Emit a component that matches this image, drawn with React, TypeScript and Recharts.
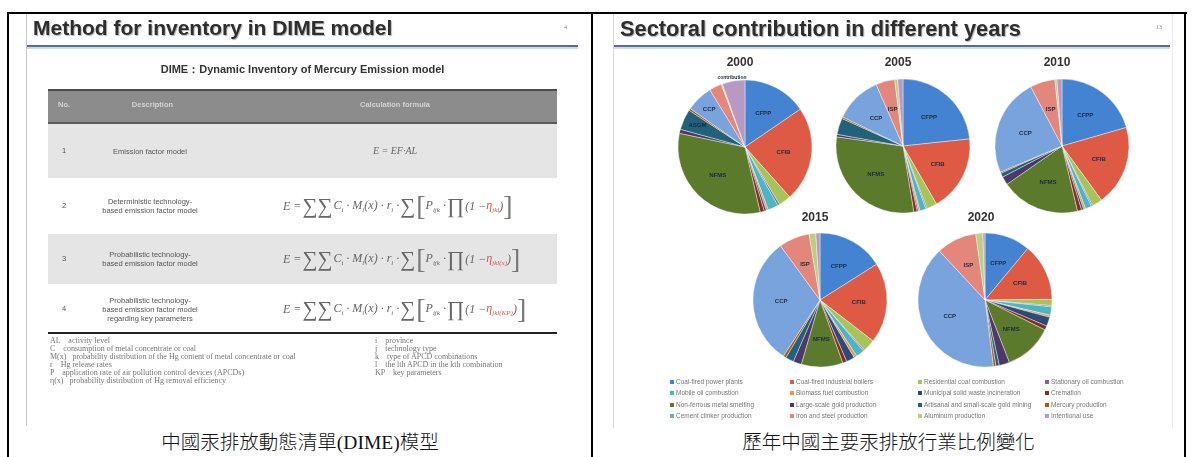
import React from 'react';
import { PieChart, Pie, Cell } from 'recharts';

// Emission sectors, in legend order (row by row)
const sectors = [
  'Coal-fired power plants',
  'Coal-fired industrial boilers',
  'Residential coal combustion',
  'Stationary oil combustion',
  'Mobile oil combustion',
  'Biomass fuel combustion',
  'Municipal solid waste incineration',
  'Cremation',
  'Non-ferrous metal smelting',
  'Large-scale gold production',
  'Artisanal and small-scale gold mining',
  'Mercury production',
  'Cement clinker production',
  'Iron and steel production',
  'Aluminum production',
  'Intentional use',
];

// short tags printed inside the big slices
const sectorTags = ['CFPP', 'CFIB', '', '', '', '', '', '', 'NFMS', '', 'ASGM', '', 'CCP', 'ISP', '', ''];

const years = ['2000', '2005', '2010', '2015', '2020'];

// share of total Hg emission (%) per sector
const share2000 = [15.5, 23, 3, 0.5, 2.5, 0.5, 0.5, 1, 32, 1, 5, 0.5, 6.5, 3, 0.3, 5.5];
const share2005 = [23.5, 18.5, 2.5, 0.3, 1.5, 0.4, 0.3, 0.8, 30, 0.6, 4, 0.4, 11.4, 4.6, 0.7, 1.3];
const share2010 = [20.5, 19.4, 2.5, 0.3, 1.5, 0.5, 0.5, 1, 19, 2, 1, 0.3, 23.6, 6, 0.5, 1.2];
const share2015 = [16, 19.4, 3, 0.3, 2, 0.7, 2, 1, 10, 2, 2, 0.7, 30.7, 7.4, 1.6, 1];
const share2020 = [11, 13.8, 1.5, 0.3, 2, 0.5, 2.2, 1, 11.7, 2.5, 0.8, 0.6, 40, 9.7, 1.7, 0.5];

// which tags get printed in each year's pie
const tags2000 = ['CFPP', 'CFIB', 'NFMS', 'ASGM', 'CCP'];
const tagsLater = ['CFPP', 'CFIB', 'NFMS', 'CCP', 'ISP'];

// DIME method table
const methodNo = ['1', '2', '3', '4'];
const methodDesc = [
  ['Emission factor model'],
  ['Deterministic technology-', 'based emission factor model'],
  ['Probabilistic technology-', 'based emission factor model'],
  ['Probabilistic technology-', 'based emission factor model', 'regarding key parameters'],
];
const etaTerms = ['η_jkl', 'η_jkl(x)', 'η_jkl(KP)'];
const notesLeft = [
  'AL    activity level',
  'C    consumption of metal concentrate or coal',
  'M(x)   probability distribution of the Hg content of metal concentrate or coal',
  'r    Hg release rates',
  'P    application rate of air pollution control devices (APCDs)',
  'η(x)   probability distribution of Hg removal efficiency',
];
const notesRight = [
  'i    province',
  'j    technology type',
  'k    type of APCD combinations',
  'l    the lth APCD in the kth combination',
  'KP    key parameters',
];

const palette = [
  '#4383d2', '#de5a44', '#a6c45a', '#8064a2', '#4bb5c8', '#f3934a', '#2a4c78', '#8a2b20',
  '#5b7a2c', '#4b3a68', '#22617a', '#b65708', '#79a3dc', '#e3877c', '#bccf7e', '#b899c4',
];

const RAD = Math.PI / 180;
const sans = '"Liberation Sans", Arial, sans-serif';
const serif = '"Liberation Serif", "Times New Roman", serif';
const slideBlur = 'blur(0.45px)';

function pieRows(values: number[], shown: string[]) {
  return sectors.map((name, i) => ({
    name,
    value: values[i],
    tag: shown.includes(sectorTags[i]) ? sectorTags[i] : '',
  }));
}

const pies = [
  { year: years[0], data: pieRows(share2000, tags2000), cx: 140, cy: 102 },
  { year: years[1], data: pieRows(share2005, tagsLater), cx: 298, cy: 101 },
  { year: years[2], data: pieRows(share2010, tagsLater), cx: 457, cy: 101 },
  { year: years[3], data: pieRows(share2015, tagsLater), cx: 215, cy: 255 },
  { year: years[4], data: pieRows(share2020, tagsLater), cx: 380, cy: 255 },
];

function renderTag(props: any) {
  const tag = props.payload?.tag ?? props.tag;
  if (!tag) return null;
  const r = props.outerRadius * (tag === 'ASGM' || (tag === 'CCP' && props.percent < 0.1) ? 0.78 : 0.58);
  const x = props.cx + r * Math.cos(-props.midAngle * RAD);
  const y = props.cy + r * Math.sin(-props.midAngle * RAD);
  return (
    <text x={x} y={y} textAnchor="middle" dominantBaseline="central"
      fontSize={6} fontWeight="bold" fill="#1d2a44" fontFamily={sans}>
      {tag}
    </text>
  );
}

const abs = (left: number, top: number, extra: React.CSSProperties = {}): React.CSSProperties => ({
  position: 'absolute', left, top, ...extra,
});

const sub = { fontSize: 7 };
const bigOp: React.CSSProperties = { fontSize: 21, fontStyle: 'normal', margin: '0 1px', lineHeight: '20px' };
const bracket: React.CSSProperties = { fontSize: 28, fontStyle: 'normal', fontWeight: 200, lineHeight: '28px', color: '#777' };

function Formula({ eta, top }: { eta: string; top: number }) {
  const [base, rest] = eta.split('_');
  return (
    <div style={abs(283, top, { width: 250, height: 30, fontFamily: serif, fontStyle: 'italic', fontSize: 12, color: '#666', whiteSpace: 'nowrap', display: 'flex', alignItems: 'center' })}>
      <span>E = </span>
      <span style={bigOp}>∑∑</span>
      <span>C<sub style={sub}>i</sub> · M<sub style={sub}>i</sub>(x) · r<sub style={sub}>i</sub> · </span>
      <span style={bigOp}>∑</span>
      <span style={bracket}>[</span>
      <span>P<sub style={sub}>ijk</sub> · </span>
      <span style={bigOp}>∏</span>
      <span>(1 − </span>
      <span style={{ color: '#d6584c' }}>{base}<sub style={sub}>{rest}</sub></span>
      <span>)</span>
      <span style={bracket}>]</span>
    </div>
  );
}

function SlideTitle({ left, width, text, page, size }: { left: number; width: number; text: string; page: string; size: number }) {
  return (
    <>
      <div style={abs(left + 6, 16, { fontFamily: sans, fontWeight: 'bold', fontSize: size, color: '#2e2e2e', textShadow: '1px 1px 1px #b5b5b5', whiteSpace: 'nowrap' })}>
        {text}
      </div>
      <div style={abs(left + width - 14, 24, { fontFamily: serif, fontSize: 6, color: '#888' })}>{page}</div>
      <div style={abs(left, 45, { width, height: 2, background: '#5a6b97' })} />
      <div style={abs(left, 47, { width, height: 2, background: '#d3d9e7' })} />
    </>
  );
}

function MethodSlide() {
  const rowTops = [124, 180, 234, 286];
  const rowHeights = [54, 52, 50, 46];
  return (
    <div style={abs(0, 0, { filter: slideBlur })}>
      <div style={abs(26, 14, { width: 552, height: 412, background: '#fff', borderLeft: '1px solid #c8c8c8' })} />
      <SlideTitle left={27} width={551} text="Method for inventory in DIME model" page="4" size={21} />
      <div style={abs(48, 62, { width: 509, textAlign: 'center', fontFamily: sans, fontWeight: 'bold', fontSize: 11, color: '#333' })}>
        DIME：Dynamic Inventory of Mercury Emission model
      </div>
      {/* header */}
      <div style={abs(48, 89, { width: 509, height: 31, background: '#8c8c8c', borderTop: '2px solid #4a4a4a', borderBottom: '2px solid #5a5a5a' })} />
      <div style={abs(58, 100, { fontFamily: sans, fontSize: 7.5, color: '#d4d4d4', fontWeight: 'bold' })}>No.</div>
      <div style={abs(105, 100, { width: 95, textAlign: 'center', fontFamily: sans, fontSize: 7.5, color: '#d4d4d4', fontWeight: 'bold' })}>Description</div>
      <div style={abs(325, 100, { width: 140, textAlign: 'center', fontFamily: sans, fontSize: 7.5, color: '#d4d4d4', fontWeight: 'bold' })}>Calculation formula</div>
      {methodNo.map((no, i) => (
        <React.Fragment key={no}>
          <div style={abs(48, rowTops[i], { width: 509, height: rowHeights[i], background: i % 2 === 0 ? '#e5e5e5' : '#fff' })} />
          <div style={abs(62, rowTops[i] + rowHeights[i] / 2 - 5, { fontFamily: sans, fontSize: 7.5, color: '#555' })}>{no}</div>
          <div style={abs(82, rowTops[i] + rowHeights[i] / 2 - methodDesc[i].length * 4.5, { width: 136, textAlign: 'center', fontFamily: sans, fontSize: 7.5, lineHeight: '9px', color: '#555' })}>
            {methodDesc[i].map((line) => <div key={line}>{line}</div>)}
          </div>
        </React.Fragment>
      ))}
      <div style={abs(330, 145, { width: 130, textAlign: 'center', fontFamily: serif, fontStyle: 'italic', fontSize: 10, color: '#666' })}>E = EF·AL</div>
      {etaTerms.map((eta, i) => (
        <Formula key={eta} eta={eta} top={rowTops[i + 1] + rowHeights[i + 1] / 2 - 15} />
      ))}
      <div style={abs(48, 332, { width: 509, height: 2, background: '#222' })} />
      <div style={abs(50, 337, { fontFamily: serif, fontSize: 8, lineHeight: '8px', color: '#777', whiteSpace: 'pre' })}>
        {notesLeft.map((n) => <div key={n}>{n}</div>)}
      </div>
      <div style={abs(375, 337, { fontFamily: serif, fontSize: 8, lineHeight: '8px', color: '#777', whiteSpace: 'pre' })}>
        {notesRight.map((n) => <div key={n}>{n}</div>)}
      </div>
    </div>
  );
}

function SectorSlide() {
  const titlePos = [[740, 55], [898, 55], [1057, 55], [815, 210], [981, 210]];
  const legendX = [670, 790, 918, 1045];
  const legendY = [378, 389, 401, 412];
  return (
    <div style={abs(0, 0, { filter: slideBlur })}>
      <div style={abs(613, 14, { width: 558, height: 414, background: '#fff', borderLeft: '1px solid #d8d8d8', borderRight: '1px solid #ececec' })} />
      <SlideTitle left={614} width={556} text="Sectoral contribution in different years" page="13" size={21.8} />
      {pies.map((p, i) => (
        <div key={p.year} style={abs(titlePos[i][0] - 30, titlePos[i][1], { width: 60, textAlign: 'center', fontFamily: sans, fontWeight: 'bold', fontSize: 12, color: '#333' })}>
          {p.year}
        </div>
      ))}
      <div style={abs(600, 40)}>
        <PieChart width={585} height={340}>
          {pies.map((p) => (
            <Pie
              key={p.year}
              data={p.data}
              dataKey="value"
              nameKey="name"
              cx={p.cx}
              cy={p.cy}
              outerRadius={67}
              startAngle={90}
              endAngle={-270}
              stroke="#ffffff"
              strokeWidth={0.4}
              label={renderTag}
              labelLine={false}
              isAnimationActive={false}
            >
              {p.data.map((d, i) => <Cell key={d.name} fill={palette[i]} />)}
            </Pie>
          ))}
        </PieChart>
      </div>
      <div style={abs(712, 74, { width: 40, textAlign: 'center', fontFamily: sans, fontWeight: 'bold', fontSize: 5, color: '#1d2a44' })}>contribution</div>
      {sectors.map((s, i) => (
        <div key={s} style={abs(legendX[i % 4], legendY[Math.floor(i / 4)], { display: 'flex', alignItems: 'center', fontFamily: sans, fontSize: 6.5, color: '#777', whiteSpace: 'nowrap' })}>
          <span style={{ width: 4, height: 4, background: palette[i], marginRight: 2, display: 'inline-block' }} />
          {s}
        </div>
      ))}
    </div>
  );
}

export default function App() {
  const captionFont = '"Liberation Serif", "Noto Sans CJK TC", serif';
  return (
    <div style={{ position: 'relative', width: 1192, height: 457, background: '#fff', overflow: 'hidden' }}>
      <style>{'body{margin:0}'}</style>
      <MethodSlide />
      <SectorSlide />
      {/* outer frame lines */}
      <div style={abs(7, 12, { width: 1180, height: 2, background: '#000' })} />
      <div style={abs(7, 12, { width: 2, height: 445, background: '#000' })} />
      <div style={abs(591, 12, { width: 2, height: 445, background: '#000' })} />
      <div style={abs(1184, 12, { width: 2, height: 445, background: '#000' })} />
      <div style={abs(9, 431, { width: 582, textAlign: 'center', fontFamily: captionFont, fontSize: 19.5, fontWeight: 300, lineHeight: '24px', color: '#111' })}>
        中國汞排放動態清單(DIME)模型
      </div>
      <div style={abs(593, 431, { width: 591, textAlign: 'center', fontFamily: captionFont, fontSize: 19.5, fontWeight: 300, lineHeight: '24px', color: '#111' })}>
        歷年中國主要汞排放行業比例變化
      </div>
    </div>
  );
}
